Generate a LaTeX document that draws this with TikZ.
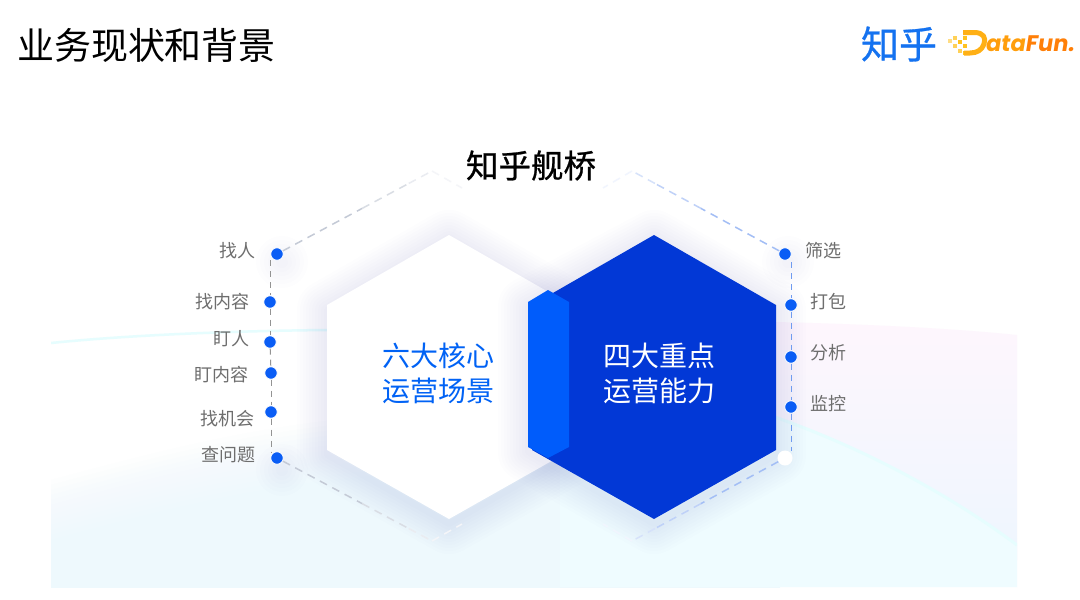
\documentclass[tikz,border=0pt]{standalone}
\usepackage{fontspec}
\usetikzlibrary{fadings,calc}
\newfontfamily\cjk{Noto Sans CJK SC}
\newfontfamily\cjkmid[FakeBold=0.7]{Noto Sans CJK SC}
\newfontfamily\logofont[FakeSlant=0.16]{Poppins}
\definecolor{zhblue}{HTML}{0062F5}
\definecolor{logoblue}{HTML}{1472F0}
\definecolor{deepblue}{HTML}{0238D6}
\definecolor{stripblue}{HTML}{005CFB}
\definecolor{dotblue}{HTML}{0A5DF5}
\definecolor{shadowblue}{HTML}{3A55C8}
\definecolor{palebg}{HTML}{EEF9FD}
\definecolor{cyanbg}{HTML}{EFFCFF}
\definecolor{cyanband}{HTML}{E6FDFE}
\definecolor{pinkbg}{HTML}{FEF6FD}
\definecolor{blueish}{HTML}{EEF6FE}
\definecolor{labelgray}{HTML}{6E6E6E}
\definecolor{dashgray}{HTML}{C4CAD6}
\definecolor{dashblue}{HTML}{A3BEF5}
\definecolor{vblue}{HTML}{6F9BF0}
\definecolor{dfa}{HTML}{FFC21F}
\definecolor{dfb}{HTML}{FF9E0C}
\definecolor{dfc}{HTML}{FF7F08}
\tikzset{
  x=1pt,y=-1pt,
  every node/.style={font=\cjk,inner sep=0pt},
  lab/.style={text=labelgray,font=\cjk\fontsize{18}{18}\selectfont,anchor=center},
  bigtxt/.style={font=\cjk\fontsize{28}{35}\selectfont,align=center,anchor=center},
  ptdot/.style={circle,fill=dotblue,minimum size=12.5pt,draw=white,line width=0.8pt},
  dashg/.style={draw=#1,line width=1.5pt,dash pattern=on 8pt off 6pt},
  vdash/.style={draw=#1,line width=1pt,dash pattern=on 6pt off 5pt},
  sq/.style={fill=#1,minimum size=4.6pt},
}
\newcommand{\softhex}[1]{%
  \begin{scope}[yshift=-5pt]
  \foreach \w in {6,12,...,60}{
    \draw[shadowblue,opacity=0.009,line width=\w pt,line join=round,fill=none] #1 -- cycle;
  }%
  \end{scope}%
}
\begin{document}
\begin{tikzpicture}
\useasboundingbox (0,0) rectangle (1080,600);
\fill[white] (0,0) rectangle (1080,600);

% background wash
\begin{scope}
\clip (51,300) rectangle (1017,587);
\foreach \t in {0,5,...,100}{
  \fill[palebg,opacity=.1] (51,{480+\t}) .. controls (200,{440+\t}) and (300,{415+\t}) .. (480,{410+\t}) -- (780,{410+\t}) -- (780,587) -- (51,587) -- cycle;
}
\shade[top color=pinkbg,bottom color=blueish] (776,322) .. controls (860,324) and (950,328) .. (1017,335) -- (1017,560) -- (776,560) -- (776,410) -- cycle;
\fill[cyanbg] (760,412) .. controls (860,445) and (950,495) .. (1017,545) -- (1017,587) -- (760,587) -- cycle;
\draw[cyanband,line width=3pt] (760,412) .. controls (860,445) and (950,495) .. (1017,545);
\fill[cyanbg] (560,587) -- (560,470) -- (780,420) -- (780,587) -- cycle;
\draw[cyanband,line width=2.5pt] (51,343) .. controls (130,335) and (230,331) .. (327,330);
\end{scope}

% outer apexes and faint ends
\coordinate (LT) at (432,171); \coordinate (LB) at (432,541);
\coordinate (RT) at (632,171); \coordinate (RB) at (632,541);
\coordinate (LTend) at (462,188); \coordinate (LBend) at (462,524);
\coordinate (RTend) at (603,188); \coordinate (RBend) at (603,524);

% halos at the corners
\foreach \hx/\hy in {282/262,282/470,788/262}{
  \foreach \r in {6,10,...,26}{\fill[shadowblue,opacity=.006] (\hx,\hy) circle (\r pt);}
}

% hexagons and soft shadows
\softhex{(449,235) -- (571,305) -- (571,450) -- (449,519) -- (327,450) -- (327,305)}
\fill[white] (449,235) -- (571,305) -- (571,450) -- (449,519) -- (327,450) -- (327,305) -- cycle;
\softhex{(654,235) -- (776,305) -- (776,450) -- (654,519) -- (528,447) -- (528,302)}
\fill[deepblue] (654,235) -- (776,305) -- (776,450) -- (654,519) -- (532,450) -- (532,305) -- cycle;
\fill[stripblue] (528,302) -- (548,290) -- (569,302) -- (569,447) -- (548,458) -- (528,447) -- cycle;

% text
\node[anchor=center,font=\cjk\fontsize{37}{37}\selectfont] (title) at (146.5,45) {业务现状和背景};
\node[anchor=center,font=\cjkmid\fontsize{32.5}{33}\selectfont,text=black] (bridge) at (531,165.5) {知乎舰桥};
\node[bigtxt,text=zhblue] (six) at (438,373) {六大核心\\运营场景};
\node[bigtxt,text=white] (four) at (659,373) {四大重点\\运营能力};

% points
\node[ptdot] (a1) at (277,254) {};
\node[ptdot] (a2) at (270,302) {};
\node[ptdot] (a3) at (270,342) {};
\node[ptdot] (a4) at (271,373) {};
\node[ptdot] (a5) at (271,412) {};
\node[ptdot] (a6) at (277,458) {};
\node[ptdot] (b1) at (785,254) {};
\node[ptdot] (b2) at (791,305) {};
\node[ptdot] (b3) at (791,357) {};
\node[ptdot] (b4) at (791,407) {};
\node[circle,fill=white,minimum size=15pt] (b5) at (785,458) {};

% dashed outer outline, paler towards the apexes
\draw[dashg=dashgray] (a1) -- ($(a1)!.55!(LT)$);
\draw[dashg=dashgray!65] ($(a1)!.55!(LT)$) -- ($(a1)!.85!(LT)$);
\draw[dashg=dashgray!35] ($(a1)!.85!(LT)$) -- (LT);
\draw[dashg=dashgray!18] (LT) -- (LTend);
\draw[dashg=dashgray] (a6) -- ($(a6)!.55!(LB)$);
\draw[dashg=dashgray!65] ($(a6)!.55!(LB)$) -- ($(a6)!.85!(LB)$);
\draw[dashg=dashgray!35] ($(a6)!.85!(LB)$) -- (LB);
\draw[dashg=dashgray!18] (LB) -- (LBend);
\draw[dashg=dashblue] (b1) -- ($(b1)!.55!(RT)$);
\draw[dashg=dashblue!70] ($(b1)!.55!(RT)$) -- ($(b1)!.85!(RT)$);
\draw[dashg=dashblue!45] ($(b1)!.85!(RT)$) -- (RT);
\draw[dashg=dashblue!15] (RT) -- (RTend);
\draw[dashg=dashblue] (b5) -- ($(b5)!.55!(RB)$);
\draw[dashg=dashblue!70] ($(b5)!.55!(RB)$) -- ($(b5)!.85!(RB)$);
\draw[dashg=dashblue!45] ($(b5)!.85!(RB)$) -- (RB);
\draw[dashg=dashblue!15] (RB) -- (RBend);

% vertical dashed spines
\coordinate (lv1) at (270,260); \coordinate (lv2) at (271,452);
\draw[vdash=gray!85] (lv1) -- (a2);
\draw[vdash=gray!85] (a2) -- (a3);
\draw[vdash=gray!85] (a3) -- (a4);
\draw[vdash=gray!85] (a4) -- (a5);
\draw[vdash=gray!85] (a5) -- (lv2);
\coordinate (rv1) at (791,262); \coordinate (rv2) at (791,451);
\draw[vdash=vblue] (rv1) -- (b2);
\draw[vdash=vblue] (b2) -- (b3);
\draw[vdash=vblue] (b3) -- (b4);
\draw[vdash=vblue] (b4) -- (rv2);

% labels
\node[lab] (l1) at (237,251) {找人};
\node[lab] (l2) at (222,302) {找内容};
\node[lab] (l3) at (231,339) {盯人};
\node[lab] (l4) at (221,375) {盯内容};
\node[lab] (l5) at (227,419) {找机会};
\node[lab] (l6) at (228,455) {查问题};
\node[lab] (r1) at (823,251) {筛选};
\node[lab] (r2) at (828,302) {打包};
\node[lab] (r3) at (828,353) {分析};
\node[lab] (r4) at (828,404) {监控};

% logo
\node[anchor=center,text=logoblue,font=\cjkmid\fontsize{38}{38}\selectfont] (zh) at (899,44) {知乎};
\foreach \p/\q/\c in {950/41/dfa!55,955/46/dfa!75,955/38/dfa!75,960/42/dfa,960/51/dfa!75,965/46/dfa,965/38/dfa,965/53/dfa}{
  \node[sq=\c] at (\p,\q) {};
}
\draw[dfa!50!dfb,line width=5pt,line join=round] (963,32.5) -- (974,32.5) .. controls (984,32.5) and (986,38) .. (984,44) .. controls (982,50) and (977,53) .. (970,53) -- (964,53);
\node[anchor=west,font=\logofont\fontsize{22.5}{23}\selectfont\bfseries] (df) at (985,44) {\color{dfb}ata\color{dfc}Fun.};
\end{tikzpicture}
\end{document}
